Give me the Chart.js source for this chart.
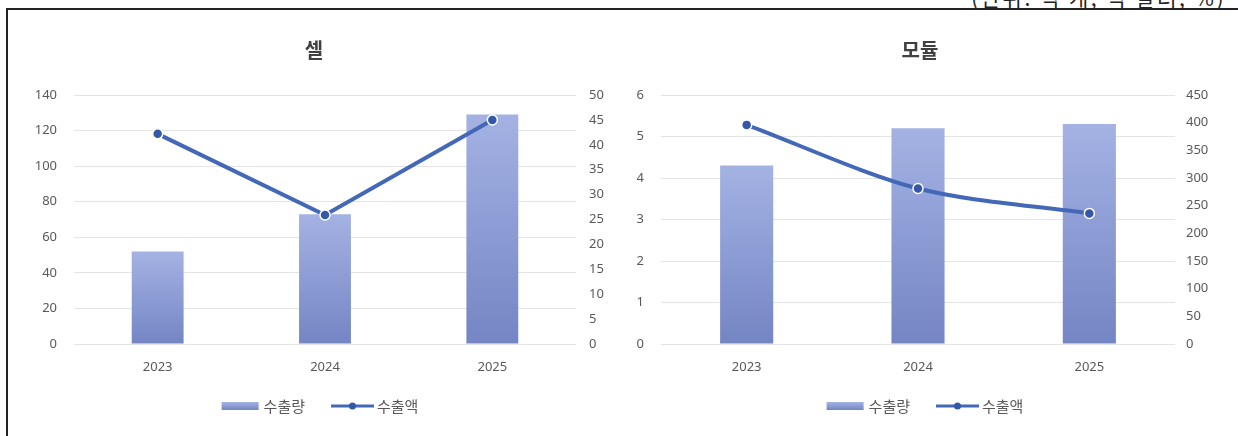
<!DOCTYPE html>
<html>
<head>
<meta charset="utf-8">
<script src="https://cdn.jsdelivr.net/npm/chart.js@4.4.1/dist/chart.umd.min.js"></script>
<style>
  body { margin: 0; width: 1238px; height: 436px; background: #fff; position: relative; overflow: hidden; font-family: 'Noto Sans CJK KR', sans-serif; }
  .frame { position: absolute; left: 6px; top: 8px; width: 1250px; height: 450px; border-left: 2px solid #222; border-top: 2px solid #222; }
  .unit { position: absolute; top: -13px; right: 12px; font-size: 21px; line-height: 21px; letter-spacing: 2.5px; color: #222; white-space: nowrap; }
  canvas { position: absolute; top: 0; }
  #cell { left: 0; }
  #module { left: 620px; }
</style>
</head>
<body>
<div class="unit">(단위: 억 개, 억 달러, %)</div>
<div class="frame"></div>
<canvas id="cell" width="620" height="436"></canvas>
<canvas id="module" width="618" height="436"></canvas>
<script>
// 연도별 수출량 / 수출액
const years = ['2023', '2024', '2025'];
const seriesNames = ['수출량', '수출액'];

const cellVolume = [52, 73, 129];
const cellValue = [42.2, 25.9, 45.0];
const moduleVolume = [4.3, 5.2, 5.3];
const moduleValue = [396, 281, 236];

const cellTicks = { left: [0, 140, 20], right: [0, 50, 5] };
const moduleTicks = { left: [0, 6, 1], right: [0, 450, 50] };

const LINE = '#4468B8';
const DOT = '#3557A8';
const TEXT = '#595959';
const TICK_FONT = { family: "'Noto Sans', 'Noto Sans CJK KR', sans-serif", size: 13 };

function barFill(c) {
  const chart = c.chart;
  if (!chart.chartArea || c.raw == null) return '#8C9DD6';
  const s = chart.scales.y;
  const top = s.getPixelForValue(c.raw), base = s.getPixelForValue(0);
  const g = chart.ctx.createLinearGradient(0, top, 0, base);
  g.addColorStop(0, '#A4B2E3');
  g.addColorStop(1, '#7485C4');
  return g;
}

// 제목과 범례는 직접 그림
const decor = {
  id: 'decor',
  afterDraw(chart, args, o) {
    const ctx = chart.ctx;
    ctx.save();
    ctx.fillStyle = '#404040';
    ctx.font = "bold 20px 'Noto Sans CJK KR', sans-serif";
    ctx.textAlign = 'center';
    ctx.textBaseline = 'middle';
    ctx.fillText(o.title, o.titleX, 50);

    ctx.font = "15px 'Noto Sans CJK KR', sans-serif";
    ctx.textAlign = 'left';
    const t1 = chart.data.datasets[0].label, t2 = chart.data.datasets[1].label;
    const w1 = ctx.measureText(t1).width, w2 = ctx.measureText(t2).width;
    const total = 37 + 5 + w1 + 26 + 43 + 3 + w2;
    let x = o.legendX - total / 2;
    const y = 406;
    const g = ctx.createLinearGradient(0, y - 4, 0, y + 4);
    g.addColorStop(0, '#A4B2E3');
    g.addColorStop(1, '#7485C4');
    ctx.fillStyle = g;
    ctx.fillRect(x, y - 4, 37, 8);
    x += 42;
    ctx.fillStyle = TEXT;
    ctx.fillText(t1, x, y);
    x += w1 + 26;
    ctx.strokeStyle = LINE;
    ctx.lineWidth = 3;
    ctx.beginPath();
    ctx.moveTo(x, y);
    ctx.lineTo(x + 43, y);
    ctx.stroke();
    ctx.fillStyle = DOT;
    ctx.beginPath();
    ctx.arc(x + 21.5, y, 3.5, 0, Math.PI * 2);
    ctx.fill();
    x += 46;
    ctx.fillStyle = TEXT;
    ctx.fillText(t2, x, y);
    ctx.restore();
  }
};

function makeChart(id, title, vol, val, ticks, geo) {
  return new Chart(document.getElementById(id), {
    data: {
      labels: years,
      datasets: [
        {
          type: 'bar',
          label: seriesNames[0],
          data: vol,
          yAxisID: 'y',
          backgroundColor: barFill,
          barPercentage: 0.31,
          categoryPercentage: 1,
          order: 1
        },
        {
          type: 'line',
          label: seriesNames[1],
          data: val,
          yAxisID: 'y1',
          borderColor: LINE,
          borderWidth: 4,
          tension: geo.tension,
          pointRadius: 5,
          pointBackgroundColor: DOT,
          pointBorderColor: '#fff',
          pointBorderWidth: 1.5,
          order: 0
        }
      ]
    },
    options: {
      responsive: false,
      animation: false,
      devicePixelRatio: 1,
      layout: { padding: { top: 95, bottom: 52, left: 0, right: 0 } },
      plugins: {
        legend: { display: false },
        tooltip: { enabled: false },
        decor: { title, titleX: geo.titleX, legendX: geo.legendX }
      },
      scales: {
        x: {
          grid: { display: false },
          border: { display: false },
          ticks: { color: TEXT, font: TICK_FONT, padding: 7 },
          afterFit: s => { s.height = 40; }
        },
        y: {
          position: 'left',
          min: ticks.left[0], max: ticks.left[1],
          grid: { color: '#E4E4E4', drawTicks: false },
          border: { display: false },
          ticks: { stepSize: ticks.left[2], color: TEXT, font: TICK_FONT, padding: 17 },
          afterFit: s => { s.width = geo.leftW; }
        },
        y1: {
          position: 'right',
          min: ticks.right[0], max: ticks.right[1],
          grid: { display: false, drawTicks: false },
          border: { display: false },
          ticks: { stepSize: ticks.right[2], color: TEXT, font: TICK_FONT, padding: geo.rightPad },
          afterFit: s => { s.width = geo.rightW; }
        }
      }
    },
    plugins: [decor]
  });
}

makeChart('cell', '셀', cellVolume, cellValue, cellTicks,
  { leftW: 74, rightW: 44, rightPad: 13, titleX: 314, legendX: 320, tension: 0 });
makeChart('module', '모듈', moduleVolume, moduleValue, moduleTicks,
  { leftW: 41, rightW: 63, rightPad: 11, titleX: 300, legendX: 305, tension: 0.3 });
</script>
</body>
</html>
